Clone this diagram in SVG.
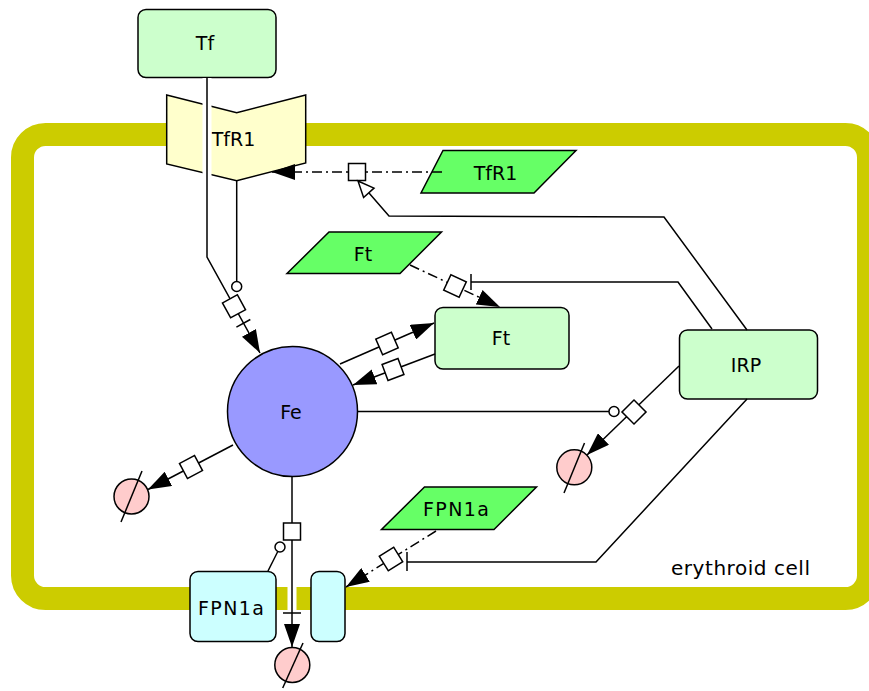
<svg xmlns="http://www.w3.org/2000/svg" width="869" height="691" viewBox="0 0 869 691">
<style>
text{font-family:"DejaVu Sans","Liberation Sans",sans-serif;font-size:19px;fill:#000;text-anchor:middle}
.n{stroke:#000;stroke-width:1.5}
.c{fill:none;stroke:#000;stroke-width:1.5}
.dd{stroke-dasharray:10,4,2,4}
.halo{fill:none;stroke:#fff;stroke-width:9}
.g{fill:#66ff66}
.lg{fill:#ccffcc}
.cy{fill:#ccffff}
.deg circle{fill:#ffcccc;stroke:#000;stroke-width:1.5}
.deg line{stroke:#000;stroke-width:1.5}
</style>
<defs>
<marker id="arr" markerUnits="userSpaceOnUse" markerWidth="24" markerHeight="16" refX="23" refY="8" orient="auto"><path d="M0,0 L23,8 L0,16 z" fill="#000"/></marker>
<rect id="sq" x="-8.5" y="-8.5" width="17" height="17" fill="#fff" stroke="#000" stroke-width="1.5"/>
</defs>
<g id="erythroid_cell">
<rect x="22.5" y="134.5" width="846" height="464" rx="23" fill="none" stroke="#cccc00" stroke-width="23"/>
<text x="671" y="574.5" style="text-anchor:start;font-size:20px" textLength="139" lengthAdjust="spacing">erythroid cell</text>
</g>
<g id="Tf"><rect class="n lg" x="138" y="9.5" width="138" height="68" rx="8"/><text x="205" y="50">Tf</text></g>
<g id="TfR1_receptor"><polygon class="n" fill="#ffffcc" points="166.7,95 236.7,112.7 305.7,95 305.7,163 236.7,180.7 166.7,164"/><text x="233.5" y="145.5">TfR1</text></g>
<g id="TfR1_mRNA"><polygon class="n g" points="443,150.5 576,150.5 534,193 421,193"/><text x="495.5" y="180">TfR1</text></g>
<g id="Ft_mRNA"><polygon class="n g" points="329,232 441.5,232 400,273.5 287,273.5"/><text x="363" y="260.5">Ft</text></g>
<g id="Ft"><rect class="n lg" x="435" y="307.5" width="134" height="61.5" rx="8"/><text x="501" y="345">Ft</text></g>
<g id="IRP"><rect class="n lg" x="679.5" y="330" width="138" height="69" rx="8"/><text x="746" y="371.5">IRP</text></g>
<g id="Fe"><circle class="n" fill="#9999ff" cx="292.5" cy="411.5" r="65"/><text x="291" y="419">Fe</text></g>
<g id="FPN1a_mRNA"><polygon class="n g" points="424.5,487 536.5,487 494,529.5 381.5,529.5"/><text x="456" y="516" textLength="66" lengthAdjust="spacing">FPN1a</text></g>
<g id="FPN1a"><rect class="n cy" x="190" y="571.5" width="86" height="70" rx="8"/><text x="231" y="614.5" textLength="66" lengthAdjust="spacing">FPN1a</text></g>
<g id="FPN1a_2"><rect class="n cy" x="311" y="571.5" width="34" height="70" rx="8"/></g>
<g id="sink1" class="deg"><circle cx="131.5" cy="496.5" r="17.5"/><line x1="121" y1="522" x2="142" y2="471"/></g>
<g id="sink2" class="deg"><circle cx="574.3" cy="467.3" r="17.5"/><line x1="564" y1="493" x2="584.5" y2="443"/></g>
<g id="sink3" class="deg"><circle cx="292.3" cy="665" r="17.5"/><line x1="282.7" y1="688" x2="303" y2="643"/></g>
<g id="connectors">
<path class="halo" d="M207,78 V257 L246,328"/>
<path class="c" d="M207,78 V257 L260,353" marker-end="url(#arr)"/>
<line class="c" x1="236.4" y1="327.1" x2="250.3" y2="319.5"/>
<use href="#sq" transform="translate(234,306.3) rotate(61.3)"/>
<path class="c" d="M236.7,181 V281.5"/>
<circle cx="236.7" cy="286.5" r="5" fill="#fff" stroke="#000" stroke-width="1.5"/>
<path class="c" d="M340,364 L434,323" marker-end="url(#arr)"/>
<use href="#sq" transform="translate(387,343.5) rotate(-23.6)"/>
<path class="c" d="M435,354 L353,385" marker-end="url(#arr)"/>
<use href="#sq" transform="translate(393,369.5) rotate(-20.5)"/>
<path class="c dd" d="M410,265 L500,307" marker-end="url(#arr)"/>
<use href="#sq" transform="translate(455,286) rotate(25)"/>
<polyline class="c" points="712,329 678,282 471,282"/>
<line class="c" x1="471" y1="274" x2="471" y2="290"/>
<path class="c dd" d="M442,172 L272,172" marker-end="url(#arr)"/>
<use href="#sq" transform="translate(357,172)"/>
<polyline class="c" points="747,330 664,217 389,216 368.8,192.8"/>
<polygon points="358,181 374,188.1 363.6,197.5" fill="#fff" stroke="#000" stroke-width="1.5"/>
<path class="c" d="M233,445 L148,489.5" marker-end="url(#arr)"/>
<use href="#sq" transform="translate(191,467) rotate(-28)"/>
<path class="c" d="M679,366 L587,455" marker-end="url(#arr)"/>
<use href="#sq" transform="translate(634,412) rotate(45)"/>
<path class="c" d="M357.5,411.5 L609,411.5"/>
<circle cx="614" cy="411.5" r="5" fill="#fff" stroke="#000" stroke-width="1.5"/>
<polyline class="c" points="747,399 596,562 407,562"/>
<line class="c" x1="407" y1="552" x2="407" y2="571"/>
<path class="c dd" d="M436,531 L346,587" marker-end="url(#arr)"/>
<use href="#sq" transform="translate(391,559) rotate(-32)"/>
<path class="halo" d="M292,480 V620"/>
<path class="c" d="M292,477 V647" marker-end="url(#arr)"/>
<line class="c" x1="283" y1="613" x2="301" y2="613"/>
<use href="#sq" transform="translate(292,531.5)"/>
<path class="c" d="M268,571 L277.8,551.5"/>
<circle cx="280" cy="547" r="5" fill="#fff" stroke="#000" stroke-width="1.5"/>
</g>
</svg>
